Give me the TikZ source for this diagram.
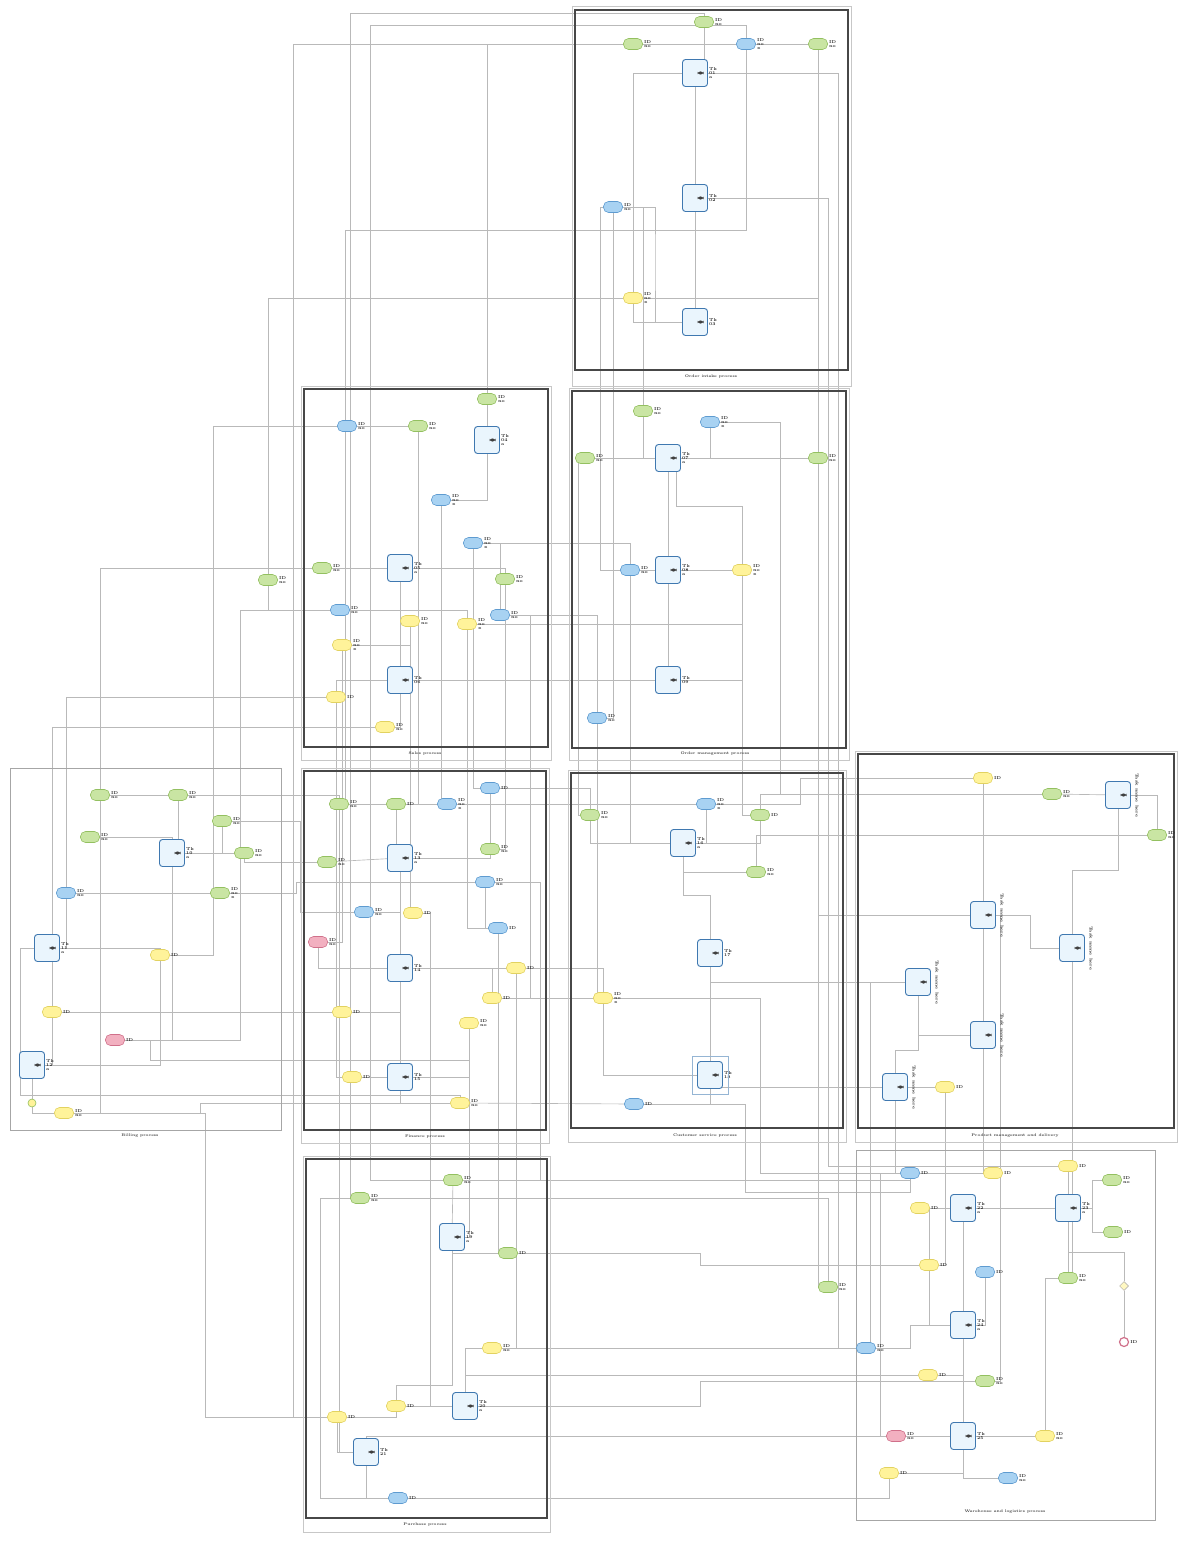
\documentclass[tikz,border=0pt]{standalone}
\usetikzlibrary{backgrounds,shapes.geometric}
\definecolor{gfill}{HTML}{C9E5A3}\definecolor{gdraw}{HTML}{93C060}
\definecolor{bfill}{HTML}{A8D2F2}\definecolor{bdraw}{HTML}{5E9BD0}
\definecolor{yfill}{HTML}{FFF39A}\definecolor{ydraw}{HTML}{E2D260}
\definecolor{pfill}{HTML}{F2B0C0}\definecolor{pdraw}{HTML}{D0708A}
\definecolor{tfill}{HTML}{EAF5FD}\definecolor{tdraw}{HTML}{3F78B0}
\definecolor{wirec}{HTML}{B9B9B9}
\tikzset{
 pool/.style={draw=black!72, line width=1.6pt},
 outerbox/.style={draw=black!22, line width=0.6pt},
 lanebox/.style={draw=black!35, line width=0.8pt},
 task/.style={rectangle, rounded corners=3pt, draw=tdraw, fill=tfill, line width=0.9pt,
   minimum width=25pt, minimum height=27pt, inner sep=0pt,
   path picture={\fill[black!75] ([xshift=-10pt,yshift=-1.6pt]path picture bounding box.east) rectangle ++(6pt,3.2pt);}},
 ovl/.style={rectangle, rounded corners=5pt, minimum width=19pt, minimum height=11pt, inner sep=0pt, line width=0.6pt},
 gobj/.style={ovl, fill=gfill, draw=gdraw},
 bobj/.style={ovl, fill=bfill, draw=bdraw},
 yobj/.style={ovl, fill=yfill, draw=ydraw},
 pobj/.style={ovl, fill=pfill, draw=pdraw},
 lbl/.style={font=\fontsize{4.2}{4.4}\selectfont\bfseries, text=black!85, align=left, inner sep=1pt},
 captxt/.style={font=\fontsize{3.8}{4}\selectfont\bfseries, text=black!75},
 wire/.style={draw=wirec, line width=0.65pt},
}
\newcommand\mkT[4]{\node[task,label={[lbl]right:{#4}}] (#1) at (#2,#3) {};}
\newcommand\mkTr[4]{\node[task] (#1) at (#2,#3) {};\node[lbl,rotate=-90] (#1l) at ([xshift=6pt]#1.east) {#4};}
\newcommand\mkO[5]{\node[#1,label={[lbl]right:{#5}}] (#2) at (#3,#4) {};}
\begin{document}
\begin{tikzpicture}[x=1pt,y=-1pt]
\useasboundingbox (0,0) rectangle (1196,1541);
\begin{scope}[on background layer]
\fill[white] (0,0) rectangle (1196,1541);
\end{scope}
% ---------- frames ----------
\draw[outerbox] (572,6) rectangle (851,386);
\draw[pool] (575,10) rectangle (848,370);
\node[captxt] (capT) at (711,377) {Order intake process};
\draw[outerbox] (301,386) rectangle (551,760);
\draw[pool] (304,389) rectangle (548,747);
\node[captxt] (capA) at (425,754) {Sales process};
\draw[outerbox] (569,388) rectangle (849,760);
\draw[pool] (572,391) rectangle (846,748);
\node[captxt] (capB) at (715,754) {Order management process};
\draw[lanebox] (10,768) rectangle (281,1130);
\node[captxt] (capL) at (140,1136) {Billing process};
\draw[outerbox] (301,768) rectangle (549,1143);
\draw[pool] (304,771) rectangle (546,1130);
\node[captxt] (capC) at (425,1137) {Finance process};
\draw[outerbox] (568,770) rectangle (846,1142);
\draw[pool] (571,773) rectangle (843,1128);
\node[captxt] (capD) at (705,1136) {Customer service process};
\draw[outerbox] (855,751) rectangle (1177,1142);
\draw[pool] (858,754) rectangle (1174,1128);
\node[captxt] (capE) at (1015,1136) {Product management and delivery};
\draw[outerbox] (303,1156) rectangle (550,1532);
\draw[pool] (306,1159) rectangle (547,1518);
\node[captxt] (capF) at (425,1525) {Purchase process};
\draw[lanebox] (856,1150) rectangle (1155,1520);
\node[captxt] (capG) at (1005,1512) {Warehouse and logistics process};
% ---------- top frame ----------
\mkT{t1}{695}{73}{Tk\\01\\a}
\mkT{t2}{695}{198}{Tk\\02}
\mkT{t3}{695}{322}{Tk\\03}
\mkO{gobj}{tg1}{704}{22}{ID\\no}
\mkO{gobj}{tg2}{633}{44}{ID\\no}
\mkO{bobj}{tb1}{746}{44}{ID\\no\\x}
\mkO{gobj}{tg3}{818}{44}{ID\\no}
\mkO{bobj}{tb2}{613}{207}{ID\\no}
\mkO{yobj}{ty1}{633}{298}{ID\\no\\x}
% ---------- frame A ----------
\mkT{a1}{487}{440}{Tk\\04\\a}
\mkT{a2}{400}{568}{Tk\\05\\a}
\mkT{a3}{400}{680}{Tk\\06}
\mkO{gobj}{ag1}{487}{399}{ID\\no}
\mkO{bobj}{ab1}{347}{426}{ID\\no}
\mkO{gobj}{ag2}{418}{426}{ID\\no}
\mkO{bobj}{ab2}{441}{500}{ID\\no\\x}
\mkO{bobj}{ab3}{473}{543}{ID\\no\\x}
\mkO{gobj}{ag3}{322}{568}{ID\\no}
\mkO{gobj}{ag4}{505}{579}{ID\\no}
\mkO{bobj}{ab4}{340}{610}{ID\\no}
\mkO{yobj}{ay1}{410}{621}{ID\\no}
\mkO{yobj}{ay2}{467}{624}{ID\\no\\x}
\mkO{bobj}{ab5}{500}{615}{ID\\no}
\mkO{yobj}{ay3}{342}{645}{ID\\no\\x}
\mkO{yobj}{ay4}{336}{697}{ID}
\mkO{yobj}{ay5}{385}{727}{ID\\no}
\mkO{gobj}{xg1}{268}{580}{ID\\no}
% ---------- frame B ----------
\mkT{b1}{668}{458}{Tk\\07\\a}
\mkT{b2}{668}{570}{Tk\\08\\a}
\mkT{b3}{668}{680}{Tk\\09}
\mkO{gobj}{bg1}{643}{411}{ID\\no}
\mkO{bobj}{bb1}{710}{422}{ID\\no\\x}
\mkO{gobj}{bg2}{585}{458}{ID\\no}
\mkO{gobj}{bg3}{818}{458}{ID\\no}
\mkO{bobj}{bb2}{630}{570}{ID\\no}
\mkO{yobj}{by1}{742}{570}{ID\\no\\x}
\mkO{bobj}{bb3}{597}{718}{ID\\no}
% ---------- left frame ----------
\mkT{l1}{172}{853}{Tk\\10\\a}
\mkT{l2}{47}{948}{Tk\\11\\a}
\mkT{l3}{32}{1065}{Tk\\12\\a}
\mkO{gobj}{lg1}{100}{795}{ID\\no}
\mkO{gobj}{lg2}{178}{795}{ID\\no}
\mkO{gobj}{lg3}{222}{821}{ID\\no}
\mkO{gobj}{lg4}{90}{837}{ID\\no}
\mkO{gobj}{lg5}{244}{853}{ID\\no}
\mkO{gobj}{lg6}{220}{893}{ID\\no\\x}
\mkO{bobj}{lb1}{66}{893}{ID\\no}
\mkO{yobj}{ly1}{160}{955}{ID}
\mkO{yobj}{ly2}{52}{1012}{ID}
\mkO{pobj}{lp1}{115}{1040}{ID}
\node[circle, draw=gdraw, fill=yfill, minimum size=8pt, inner sep=0pt, line width=0.6pt] (lc) at (32,1103) {};
\mkO{yobj}{ly3}{64}{1113}{ID\\no}
% ---------- frame C ----------
\mkT{c1}{400}{858}{Tk\\13\\a}
\mkT{c2}{400}{968}{Tk\\14}
\mkT{c3}{400}{1077}{Tk\\15}
\mkO{gobj}{cg1}{339}{804}{ID\\no}
\mkO{gobj}{cg2}{396}{804}{ID}
\mkO{bobj}{cb1}{447}{804}{ID\\no\\x}
\mkO{bobj}{cb2}{490}{788}{ID}
\mkO{gobj}{cg3}{327}{862}{ID\\no}
\mkO{gobj}{cg4}{490}{849}{ID\\no}
\mkO{bobj}{cb3}{485}{882}{ID\\no}
\mkO{bobj}{cb4}{364}{912}{ID\\no}
\mkO{yobj}{cy1}{413}{913}{ID}
\mkO{pobj}{cp1}{318}{942}{ID\\no}
\mkO{bobj}{cb5}{498}{928}{ID}
\mkO{yobj}{cy2}{516}{968}{ID}
\mkO{yobj}{cy3}{492}{998}{ID}
\mkO{yobj}{cy4}{342}{1012}{ID}
\mkO{yobj}{cy5}{469}{1023}{ID\\no}
\mkO{yobj}{cy6}{352}{1077}{ID}
\mkO{yobj}{cy7}{460}{1103}{ID\\no}
% ---------- frame D ----------
\mkT{d1}{683}{843}{Tk\\16\\a}
\mkT{d2}{710}{953}{Tk\\17}
\mkT{d3}{710}{1075}{Tk\\18}
\draw[tdraw!55, line width=0.6pt] ([shift={(-5pt,5pt)}]d3.north west) rectangle ([shift={(5pt,-5pt)}]d3.south east);
\mkO{bobj}{db1}{706}{804}{ID\\no\\x}
\mkO{gobj}{dg1}{590}{815}{ID\\no}
\mkO{gobj}{dg2}{760}{815}{ID}
\mkO{gobj}{dg3}{756}{872}{ID\\no}
\mkO{yobj}{dy1}{603}{998}{ID\\no\\x}
\mkO{bobj}{db2}{634}{1104}{ID}
% ---------- frame E ----------
\mkTr{e1}{1118}{795}{Task name here}
\mkTr{e2}{983}{915}{Task name here}
\mkTr{e3}{1072}{948}{Task name here}
\mkTr{e4}{918}{982}{Task name here}
\mkTr{e5}{983}{1035}{Task name here}
\mkTr{e6}{895}{1087}{Task name here}
\mkO{yobj}{ey1}{983}{778}{ID}
\mkO{gobj}{eg1}{1052}{794}{ID\\no}
\mkO{gobj}{eg2}{1157}{835}{ID\\no}
\mkO{yobj}{ey2}{945}{1087}{ID}
% ---------- frame F ----------
\mkT{f1}{452}{1237}{Tk\\19\\a}
\mkT{f2}{465}{1406}{Tk\\20\\a}
\mkT{f3}{366}{1452}{Tk\\21}
\mkO{gobj}{fg1}{453}{1180}{ID\\no}
\mkO{gobj}{fg2}{360}{1198}{ID\\no}
\mkO{gobj}{fg3}{508}{1253}{ID}
\mkO{yobj}{fy1}{492}{1348}{ID\\no}
\mkO{yobj}{fy2}{337}{1417}{ID}
\mkO{yobj}{fy3}{396}{1406}{ID}
\mkO{bobj}{fb1}{398}{1498}{ID}
% ---------- frame G ----------
\mkT{g1}{963}{1208}{Tk\\22\\a}
\mkT{g2}{1068}{1208}{Tk\\23\\a}
\mkT{g3}{963}{1325}{Tk\\24\\a}
\mkT{g4}{963}{1436}{Tk\\25}
\mkO{bobj}{gb1}{910}{1173}{ID}
\mkO{yobj}{gy1}{993}{1173}{ID}
\mkO{yobj}{gy2}{1068}{1166}{ID}
\mkO{gobj}{gg1}{1112}{1180}{ID\\no}
\mkO{yobj}{gy3}{920}{1208}{ID}
\mkO{gobj}{gg2}{1113}{1232}{ID}
\mkO{yobj}{gy4}{929}{1265}{ID}
\mkO{bobj}{gb2}{985}{1272}{ID}
\mkO{gobj}{gg3}{1068}{1278}{ID\\no}
\mkO{bobj}{gb3}{866}{1348}{ID\\no}
\mkO{yobj}{gy5}{928}{1375}{ID}
\mkO{gobj}{gg4}{985}{1381}{ID\\no}
\mkO{pobj}{gp1}{896}{1436}{ID\\no}
\mkO{yobj}{gy6}{1045}{1436}{ID\\no}
\mkO{yobj}{gy7}{889}{1473}{ID}
\mkO{bobj}{gb4}{1008}{1478}{ID\\no}
\node[diamond, draw=black!35, fill=yfill!60, minimum size=9pt, inner sep=0pt, line width=0.5pt] (gd) at (1124,1286) {};
\node[circle, draw=pdraw, line width=1.2pt, fill=white, minimum size=9pt, inner sep=0pt, label={[lbl]right:{ID}}] (ge) at (1124,1342) {};
\mkO{gobj}{xg2}{828}{1287}{ID\\no}
% ---------- connectors ----------
\begin{scope}[on background layer]
% top
\draw[wire] (t1) -- (t2) -- (t3);
\draw[wire] (tg1) -- (tg1 |- t1.north);
\draw[wire] (tg2) -- (tb1) -- (tg3);
\draw[wire] (t1) -| (ty1);
\draw[wire] (tb1) -- (746,230) -| (tb2);
\draw[wire] (tb2) -| (655,260) -- (655,322) -- (t3);
\draw[wire] (ty1) |- (t3);
\draw[wire] (t1) -| (tg3);
\draw[wire] (tg3) |- (xg2);
\draw[wire] (t1) -| (838,1348) -- (gb3);
\draw[wire] (t2) -| (828,1166) -- (gy2);
\draw[wire] (ty1) -| (bg3);
\draw[wire] (tg1) |- (350,13) |- (fg2);
\draw[wire] (tg2) -- (293,44) |- (fy2);
\draw[wire] (tb1) |- (370,25) |- (fg1);
\draw[wire] (xg1) |- (ty1);
\draw[wire] (tb1) |- (345,230) |- (cg1);
\draw[wire] (ag1) |- (tg2);
\draw[wire] (bg1) |- (tb2);
\draw[wire] (tb2) |- (bb3);
\draw[wire] (tb2) -- (600,207) -- (600,570) -- (bb2);
% frame A
\draw[wire] (ag1) -- (a1);
\draw[wire] (ab1) -- (ag2);
\draw[wire] (a1) |- (ab2);
\draw[wire] (ab2) |- (a2);
\draw[wire] (a2) -- (a3);
\draw[wire] (ag3) -- (a2);
\draw[wire] (ab3) -| (ab5);
\draw[wire] (a2) -| (ag4);
\draw[wire] (ab4) -| (ay2);
\draw[wire] (ay3) -| (ay1);
\draw[wire] (a3) -| (ay4);
\draw[wire] (a3) |- (ay5);
\draw[wire] (ab5) -| (bb3);
\draw[wire] (ay2) -| (by1);
\draw[wire] (a3) -- (b3);
\draw[wire] (ab3) -| (bb2);
\draw[wire] (ag2) |- (cg2);
\draw[wire] (ab2) |- (cb1);
\draw[wire] (ab3) |- (cb2);
\draw[wire] (ag4) |- (cg4);
\draw[wire] (ay1) |- (cy1);
\draw[wire] (ay3) |- (cp1);
\draw[wire] (ay4) |- (cy6);
\draw[wire] (ab1) -- (213,426) |- (ly1);
\draw[wire] (ag3) -| (100,1113) -- (ly3);
\draw[wire] (ab4) -| (240,1040) -- (lp1);
\draw[wire] (lb1) |- (ay4);
\draw[wire] (ly2) |- (ay5);
\draw[wire] (xg1) |- (ab4);
\draw[wire] (ab5) -- (530,615) |- (cy3);
\draw[wire] (ay2) |- (cb5);
% frame B
\draw[wire] (bg1) |- (b1);
\draw[wire] (bb1) |- (b1);
\draw[wire] (bg2) -- (b1) -- (bg3);
\draw[wire] (b1) -- (b2) -- (b3);
\draw[wire] (bb2) -- (b2) -- (by1);
\draw[wire] ([xshift=8pt]b1.south) -- ++(0,-34pt) -| (by1);
\draw[wire] (by1) |- (b3);
\draw[wire] (bb3) |- (b3);
\draw[wire] (bg3) |- (e2);
\draw[wire] (by1) |- (dg2);
\draw[wire] (bb3) |- (dy1);
\draw[wire] (bb2) |- (d1);
\draw[wire] (bg2) -- (578,458) |- (dg1);
\draw[wire] (bb1) -- (780,422) |- (eg1);
% left
\draw[wire] (lg1) -- (lg2);
\draw[wire] (lg2) -- (lg2 |- l1.north);
\draw[wire] (lg4) -| (l1);
\draw[wire] (l1) -| (lg3);
\draw[wire] (l1) -- (lg5);
\draw[wire] (l1) |- (lg6);
\draw[wire] (lb1) -- (lg6);
\draw[wire] (lb1) |- (l2);
\draw[wire] (l2) -| (ly1);
\draw[wire] (ly1) |- (l3);
\draw[wire] (ly2) |- (l3);
\draw[wire] (lp1) -| (l1);
\draw[wire] (l3) -- (lc);
\draw[wire] (l3) |- (ly3);
\draw[wire] (lg2) -| (cg1);
\draw[wire] (lg5) |- (cg3);
\draw[wire] (lg6) -- (296,893) |- (cb3);
\draw[wire] (ly2) -- (cy4);
\draw[wire] (lp1) -- (150,1040) -- (150,1060) -| (cy5);
\draw[wire] (ly3) -- (200,1113) |- (cy7);
\draw[wire] (ly3) -| (205,1417) -- (fy2);
\draw[wire] (lg3) -- (300,821) |- (cb4);
\draw[wire] (l2) -| (20,1095) -| (cy7);
% frame C
\draw[wire] (cg1) -- (cg2) -- (cb1);
\draw[wire] (cg2) -- (cg2 |- c1.north);
\draw[wire] (c1) -- (c2) -- (c3);
\draw[wire] (cg3) -- (c1);
\draw[wire] (c1) -| (cg4);
\draw[wire] (cb2) -- (cg4);
\draw[wire] (cb4) -| (c2);
\draw[wire] (cp1) |- (c2);
\draw[wire] (c2) -- (cy2);
\draw[wire] (cb3) |- (cb5);
\draw[wire] (c2) -| (cy3);
\draw[wire] (cy4) -| (c3);
\draw[wire] (cy6) -- (c3);
\draw[wire] (cy5) |- (c3);
\draw[wire] (c3) |- (cy7);
\draw[wire] (cb1) -- (db1);
\draw[wire] (cb2) -| (dg1);
\draw[wire] (cy2) -| (dy1);
\draw[wire] (cy3) -- (dy1);
\draw[wire] (cy7) -- (db2);
\draw[wire] (cy5) |- (f1);
\draw[wire] (cb5) |- (fg3);
\draw[wire] (cy2) |- (fy1);
\draw[wire] (cg1) |- (f3);
\draw[wire] (cb3) -- (540,882) |- (fg1);
\draw[wire] (cy1) -- (430,913) |- (fy3);
% frame D
\draw[wire] (db1) |- (d1);
\draw[wire] (dg1) |- (d1);
\draw[wire] (d1) -| (dg2);
\draw[wire] (d1) |- (dg3);
\draw[wire] (d1) -- (683,895) -| (d2);
\draw[wire] (d2) -- (d3);
\draw[wire] (dy1) |- (d3);
\draw[wire] (db2) -| (d3);
\draw[wire] (dg2) |- (eg1);
\draw[wire] (dg3) |- (eg2);
\draw[wire] (d2) |- (e4);
\draw[wire] (d3) |- (e6);
\draw[wire] (db1) -- (800,804) |- (ey1);
\draw[wire] (dy1) -- (760,998) |- (gb1);
\draw[wire] (db2) -| (745,1192) -| (gb1);
% frame E
\draw[wire] (ey1) -- (e2);
\draw[wire] (eg1) -- (e1);
\draw[wire] (e1) -| (eg2);
\draw[wire] (e1) -- (1118,870) -| (e3);
\draw[wire] (e2) -- (1030,915) |- (e3);
\draw[wire] (e2) -- (e5);
\draw[wire] (e4) |- (e5);
\draw[wire] (e4) |- (905,1050) -| (e6);
\draw[wire] (e6) -- (ey2);
\draw[wire] (e6) |- (gb1);
\draw[wire] (ey2) |- (gy4);
\draw[wire] (e5) |- (gy1);
\draw[wire] (e4) -- (870,982) |- (gb3);
\draw[wire] (e2) -- (1000,915) -- (1000,1381) -- (gg4);
\draw[wire] (e3) |- (gg3);
% frame F
\draw[wire] (fg1) -- (f1);
\draw[wire] (fg2) -| (xg2);
\draw[wire] (f1) |- (fg3);
\draw[wire] (fg3) -- (700,1253) |- (gy4);
\draw[wire] (f1) -- (452,1385) -| (fy3);
\draw[wire] (fy1) -| (f2);
\draw[wire] (fy3) -- (f2);
\draw[wire] (fy2) |- (f3);
\draw[wire] (f3) |- (fb1);
\draw[wire] (fy2) -| (fy3);
\draw[wire] (fy1) -- (gb3);
\draw[wire] (f2) |- (gy5);
\draw[wire] (f2) -- (700,1406) |- (gg4);
\draw[wire] (fb1) -| (gy7);
\draw[wire] (f3) |- (gp1);
\draw[wire] (fg1) -| (gb1);
\draw[wire] (fg2) -- (320,1198) |- (fb1);
% frame G
\draw[wire] (gb1) -- (gy1);
\draw[wire] (gy3) -- (g1) -- (g2);
\draw[wire] (gy2) -- (g2);
\coordinate (gsplit) at (1092,1208);
\draw[wire] (g2) -- (gsplit) |- (gg1);
\draw[wire] (gsplit) |- (gg2);
\draw[wire] (g1) -- (g3) -- (g4);
\draw[wire] (gy4) |- (g3);
\draw[wire] (gb2) |- (g3);
\draw[wire] (g2) -- (gg3);
\draw[wire] (g2) -- (1068,1252) -| (gd);
\draw[wire] (gd) -- (ge);
\draw[wire] (gb3) -- (910,1348) |- (g3);
\draw[wire] (g3) |- (gy5);
\draw[wire] (g3) |- (gg4);
\draw[wire] (gp1) -- (g4) -- (gy6);
\draw[wire] (g4) |- (gy7);
\draw[wire] (g4) |- (gb4);
\draw[wire] (gy6) |- (gg3);
\draw[wire] (gy3) -| (gy4);
\draw[wire] (gb1) -- (880,1173) |- (gp1);
\end{scope}
\end{tikzpicture}
\end{document}
